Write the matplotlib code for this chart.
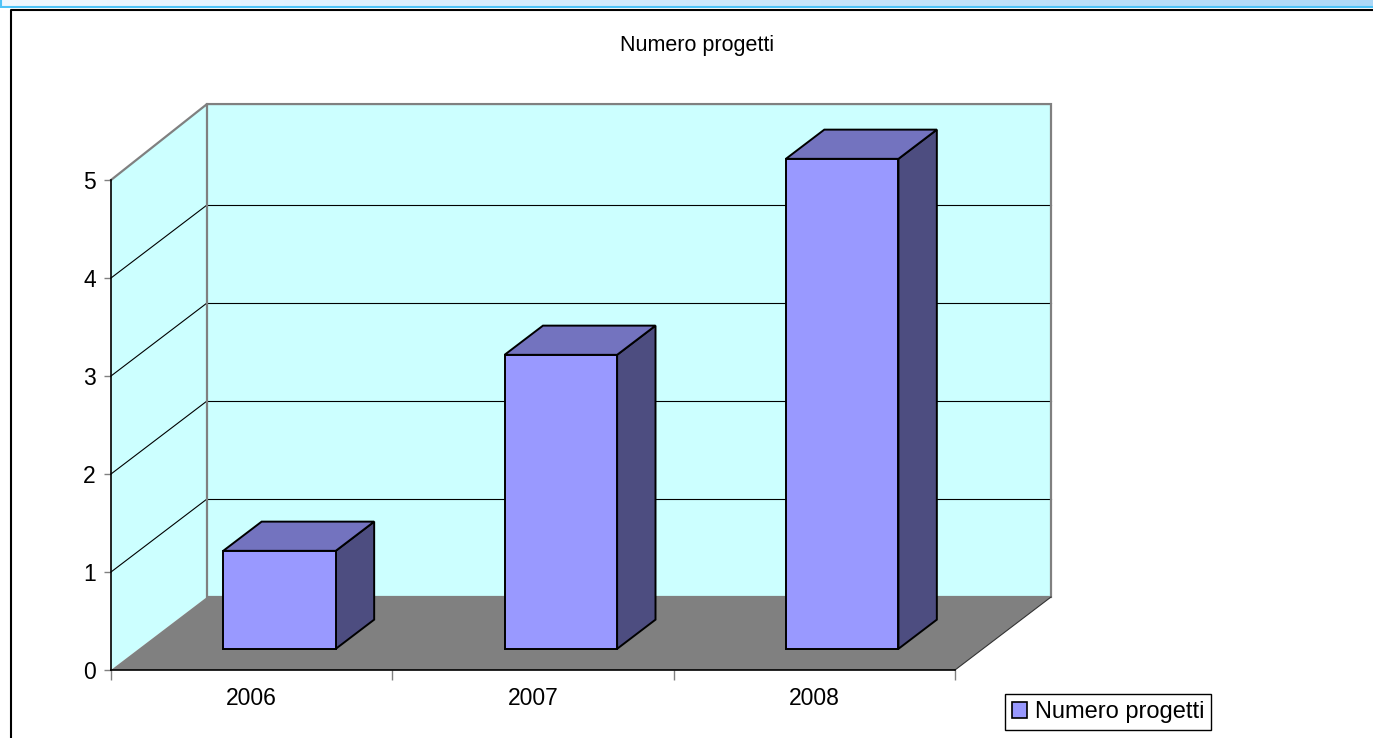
import numpy as np
import matplotlib.pyplot as plt
from matplotlib.patches import Polygon, Patch
from matplotlib.lines import Line2D

# data
anni = ["2006", "2007", "2008"]
progetti = [1, 3, 5]
titolo = "Numero progetti"
serie = "Numero progetti"
yticks = [0, 1, 2, 3, 4, 5]

# colours (Excel 3D column style)
c_wall = "#CCFFFF"
c_floor = "#808080"
c_front = "#9999FF"
c_top = "#7373BF"
c_side = "#4D4D80"

plt.rcParams['font.family'] = ['Liberation Sans', 'DejaVu Sans']

W, H = 1373, 738
fig = plt.figure(figsize=(W / 100, H / 100), dpi=100)

# plot area of the front plane, in pixels
x0, x1, y0, y1 = 111, 955, 670, 180
ax = fig.add_axes([x0 / W, 1 - y0 / H, (x1 - x0) / W, (y0 - y1) / H])
ax.set_xlim(0, len(anni))
ax.set_ylim(0, 5)
ax.set_facecolor("none")

# depth offset of the 3D box, in data units
DX = 96 / ((x1 - x0) / len(anni))
DY = 73 / ((y0 - y1) / 5)


def proj(x, y, d):
    return (x + d * DX, y + d * DY)


n = len(anni)
ymax = 5
wtop = 5.03

# walls
side = Polygon([(0, 0), (0, ymax), proj(0, wtop, 1), proj(0, 0, 1)],
               closed=True, fc=c_wall, ec="none", clip_on=False, zorder=1)
back = Polygon([proj(0, 0, 1), proj(0, wtop, 1), proj(n, wtop, 1), proj(n, 0, 1)],
               closed=True, fc=c_wall, ec="none", clip_on=False, zorder=1)
floor = Polygon([(0, 0), (n, 0), proj(n, 0, 1), proj(0, 0, 1)],
                closed=True, fc=c_floor, ec="none", clip_on=False, zorder=1)
for p in (side, back, floor):
    ax.add_patch(p)

# gridlines
for k in yticks[1:-1]:
    a, b = proj(0, k, 1), proj(n, k, 1)
    ax.plot([0, a[0]], [k, a[1]], color="black", lw=0.8, clip_on=False, zorder=2)
    ax.plot([a[0], b[0]], [a[1], b[1]], color="black", lw=0.8, clip_on=False, zorder=2)

# wall borders
bl, tl, tr, br = proj(0, 0, 1), proj(0, wtop, 1), proj(n, wtop, 1), proj(n, 0, 1)
ax.plot([0, tl[0], tr[0], br[0], bl[0], tl[0]], [ymax, tl[1], tr[1], br[1], bl[1], tl[1]],
        color="#808080", lw=1.6, clip_on=False, zorder=3, solid_joinstyle="miter")
ax.plot([n, br[0]], [0, br[1]], color="#333333", lw=0.8, clip_on=False, zorder=3)

# bars
bw = 0.4
df, db = 0.29, 0.69
for i, v in enumerate(progetti):
    xl, xr = i + 0.5 - bw / 2, i + 0.5 + bw / 2
    f = [proj(xl, 0, df), proj(xr, 0, df), proj(xr, v, df), proj(xl, v, df)]
    t = [proj(xl, v, df), proj(xr, v, df), proj(xr, v, db), proj(xl, v, db)]
    s = [proj(xr, 0, df), proj(xr, 0, db), proj(xr, v, db), proj(xr, v, df)]
    for pts, c in ((s, c_side), (t, c_top), (f, c_front)):
        ax.add_patch(Polygon(pts, closed=True, fc=c, ec="black", lw=1.4,
                             joinstyle="miter", clip_on=False, zorder=4))

# axes
for sp in ("top", "right"):
    ax.spines[sp].set_visible(False)
for sp in ("left", "bottom"):
    ax.spines[sp].set_color("black")
    ax.spines[sp].set_linewidth(1.2)
    ax.spines[sp].set_zorder(10)

ax.set_yticks(yticks)
ax.set_yticklabels([str(v) for v in yticks])
ax.tick_params(axis="y", length=5, width=1, color="#808080", pad=6, labelsize=16.5)
ax.set_xticks(np.arange(n + 1))
ax.set_xticklabels([])
ax.set_xticks(np.arange(n) + 0.5, minor=True)
ax.set_xticklabels(anni, minor=True)
ax.tick_params(axis="x", which="major", length=7.5, width=1, color="#808080")
ax.tick_params(axis="x", which="minor", length=0, pad=12, labelsize=16.5)

fig.text(697 / W, 1 - 46 / H, titolo, ha="center", va="center", fontsize=15.5)

leg = ax.legend(handles=[Patch(fc=c_front, ec="black", lw=1.2, label=serie)],
                loc="upper left", bbox_to_anchor=(1005 / W, 1 - 694 / H),
                bbox_transform=fig.transFigure, borderaxespad=0, fontsize=17,
                fancybox=False, framealpha=1, edgecolor="black",
                handlelength=0.65, handleheight=0.65, handletextpad=0.3,
                borderpad=0.3)
leg.get_frame().set_linewidth(1.0)

# window strip at the top and chart frame
strip = fig.add_axes([0, 1 - 8 / H, 1, 8 / H])
grad = np.linspace(0, 1, 256)[None, :, None]
c0 = np.array([0.94, 0.97, 1.0])
c1 = np.array([0.68, 0.85, 0.97])
strip.imshow(c0 + grad * (c1 - c0), aspect="auto", extent=(0, 1, 0, 1))
strip.axhline(0.08, color="#4FC3F7", lw=1.5)
strip.axvline(0.001, color="#4FC3F7", lw=1.5)
strip.axis("off")
fig.add_artist(Line2D([11 / W, 11 / W, 1], [0, 1 - 10 / H, 1 - 10 / H],
                      transform=fig.transFigure, color="black", lw=1.5))

fig.savefig("out.png", dpi=100)
